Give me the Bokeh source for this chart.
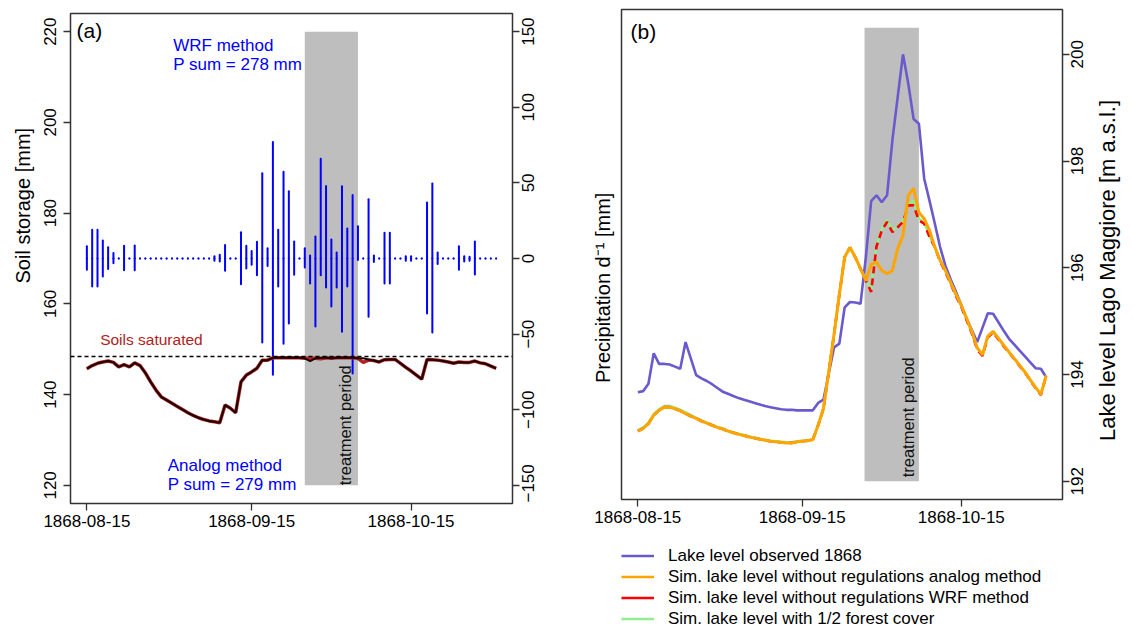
from math import pi
import numpy as np
import pandas as pd
from bokeh.plotting import figure
from bokeh.layouts import row, column
from bokeh.models import (Range1d, LinearAxis, FixedTicker, Span, Label,
                          Legend, LegendItem)
from bokeh.embed import file_html
from bokeh.resources import INLINE

FONT = "Liberation Sans"

# ---------------- data ----------------
start_date = "1868-08-15"
n_days = 78
tick_dates = ["1868-08-15", "1868-09-15", "1868-10-15"]
soil_ticks = [120, 140, 160, 180, 200, 220]
precip_ticks = [-150, -100, -50, 0, 50, 100, 150]
lake_ticks = [192, 194, 196, 198, 200]
soil_limits = [120, 220]
precip_limits = [-150, 150]
lake_limits = [192, 200.5]
soil_saturated = 148.4
treat_a = ["1868-09-25", "1868-10-05"]
treat_b = ["1868-09-26 18:00", "1868-10-07 00:00"]

# daily precipitation (upward: WRF method, downward: analog method)
precip_wrf = [8.1, 19, 19, 11.9, 7.5, 3.7, 0, 8.4, 0, 8.6,
              0, 0, 0, 0, 0, 0, 0, 0, 0, 0,
              0, 0, 0, 0, 1.5, 2.5, 9, 0, 0, 17.4,
              8.4, 5, 11, 56.4, 6.8, 77, 19, 57.3, 44.5, 11.2,
              0, 6.8, 2, 14.5, 65.9, 48, 12.6, 4, 47.8, 19.8,
              42, 21.4, 0, 39.2, 2, 0, 17, 17, 0, 0,
              1.5, 1.5, 0, 0, 37, 49.6, 4, 0, 0, 0,
              8.1, 1.5, 1.2, 11.2, 0, 0, 0, 0]
precip_analog = [7.5, 18.5, 18.5, 11.9, 7, 3.1, 0, 7.7, 0, 7.7,
                 0, 0, 0, 0, 0, 0, 0, 0, 0, 0,
                 0, 0, 0, 0, 1.5, 2, 8.1, 0, 0, 17,
                 6.6, 4.2, 11, 55.5, 5, 76.9, 18.5, 56.4, 43, 10.8,
                 0, 5.9, 16.5, 45, 11, 19.2, 31.7, 19.2, 48.5, 18.5,
                 76, 1, 0, 38.5, 2.3, 0, 16.5, 16.5, 0, 0,
                 1.5, 1.5, 0, 0, 36.4, 49, 3.7, 0, 0, 0,
                 7.5, 2, 1.5, 10.6, 0, 0, 0, 0]

# soil storage [mm]
soil_analog = [145.7, 146.4, 146.9, 147.2, 147.4, 147.1, 146.1, 146.6, 146.1, 147.0,
               146.4, 144.8, 142.8, 141.0, 139.5, 138.8, 138.1, 137.4, 136.7, 136.0,
               135.4, 134.9, 134.5, 134.2, 134.0, 133.8, 137.7, 137.0, 136.0, 142.8,
               144.3, 145.0, 145.8, 147.6, 147.6, 148.1, 148.1, 148.1, 148.1, 148.1,
               148.1, 148.0, 147.4, 148.0, 148.1, 148.1, 148.0, 148.1, 148.1, 148.1,
               148.1, 148.0, 148.0, 147.75, 147.5, 147.2, 147.7, 147.75, 147.75, 146.9,
               146.0, 145.2, 144.3, 143.4, 147.75, 147.7, 147.6, 147.4, 147.2, 146.9,
               147.2, 147.1, 147.1, 147.4, 147.0, 146.8, 146.3, 145.8]
soil_wrf = [145.7, 146.4, 146.9, 147.2, 147.4, 147.1, 146.1, 146.6, 146.1, 147.0,
            146.4, 144.8, 142.8, 141.0, 139.5, 138.8, 138.1, 137.4, 136.7, 136.0,
            135.4, 134.9, 134.5, 134.2, 134.0, 133.8, 137.7, 137.0, 136.0, 142.8,
            144.3, 145.0, 145.8, 147.6, 147.6, 148.1, 148.1, 148.1, 148.1, 148.1,
            148.1, 148.0, 148.0, 148.0, 147.9, 148.1, 148.0, 148.1, 148.1, 148.1,
            148.1, 148.0, 147.1, 147.6, 147.5, 147.2, 147.7, 147.75, 147.75, 146.9,
            146.0, 145.2, 144.3, 143.4, 147.75, 147.7, 147.6, 147.4, 147.2, 146.9,
            147.2, 147.1, 147.1, 147.4, 147.0, 146.8, 146.3, 145.8]

# lake level [m a.s.l.]
lake_obs = [193.67, 193.69, 193.83, 194.40, 194.20, 194.20, 194.19, 194.15, 194.11, 194.61,
            194.30, 193.99, 193.93, 193.88, 193.82, 193.75, 193.68, 193.64, 193.60, 193.56,
            193.53, 193.50, 193.47, 193.44, 193.41, 193.39, 193.37, 193.35, 193.34, 193.34,
            193.33, 193.33, 193.33, 193.33, 193.47, 193.53, 194.02, 194.51, 194.58, 195.26,
            195.36, 195.35, 195.33, 196.20, 197.25, 197.36, 197.23, 197.36, 198.39, 199.20,
            200.00, 199.45, 198.79, 198.70, 197.67, 197.26, 196.83, 196.39, 196.04, 195.78,
            195.55, 195.30, 195.05, 194.83, 194.61, 194.88, 195.15, 195.14, 194.98, 194.82,
            194.67, 194.56, 194.45, 194.34, 194.23, 194.12, 194.11, 193.95]
lake_analog = [192.94, 192.99, 193.08, 193.24, 193.33, 193.39, 193.39, 193.36, 193.32, 193.27,
               193.22, 193.18, 193.13, 193.09, 193.05, 193.01, 192.98, 192.94, 192.91, 192.88,
               192.86, 192.83, 192.81, 192.79, 192.77, 192.75, 192.74, 192.73, 192.72, 192.72,
               192.74, 192.75, 192.76, 192.78, 193.05, 193.36, 194.05, 194.75, 195.50, 196.20,
               196.38, 196.20, 195.98, 195.76, 196.06, 196.11, 195.95, 195.89, 195.95, 196.36,
               196.61, 197.36, 197.49, 197.04, 196.92, 196.70, 196.39, 196.14, 195.95, 195.72,
               195.50, 195.30, 195.05, 194.80, 194.50, 194.37, 194.72, 194.81, 194.68, 194.55,
               194.42, 194.30, 194.17, 194.05, 193.90, 193.76, 193.63, 193.98]
lake_wrf = [192.94, 192.99, 193.08, 193.24, 193.33, 193.39, 193.39, 193.36, 193.32, 193.27,
            193.22, 193.18, 193.13, 193.09, 193.05, 193.01, 192.98, 192.94, 192.91, 192.88,
            192.86, 192.83, 192.81, 192.79, 192.77, 192.75, 192.74, 192.73, 192.72, 192.72,
            192.74, 192.75, 192.76, 192.78, 193.05, 193.36, 194.05, 194.75, 195.50, 196.20,
            196.38, 196.20, 195.98, 195.76, 195.55, 196.40, 196.70, 196.86, 196.67, 196.76,
            196.86, 197.17, 197.17, 196.89, 196.83, 196.58, 196.39, 196.12, 195.92, 195.70,
            195.47, 195.27, 195.02, 194.77, 194.47, 194.35, 194.70, 194.79, 194.66, 194.53,
            194.41, 194.29, 194.16, 194.04, 193.89, 193.75, 193.62, 193.97]
lake_forest = [192.96, 193.01, 193.10, 193.26, 193.35, 193.41, 193.41, 193.38, 193.34, 193.29,
               193.24, 193.19, 193.14, 193.10, 193.06, 193.02, 192.99, 192.95, 192.92, 192.89,
               192.87, 192.84, 192.82, 192.80, 192.78, 192.76, 192.75, 192.74, 192.73, 192.73,
               192.75, 192.76, 192.77, 192.79, 193.06, 193.37, 194.06, 194.76, 195.51, 196.21,
               196.39, 196.21, 195.99, 195.77, 195.60, 196.42, 196.72, 196.90, 196.70, 196.78,
               196.88, 197.20, 197.25, 196.92, 196.85, 196.60, 196.40, 196.14, 195.95, 195.72,
               195.50, 195.30, 195.05, 194.80, 194.50, 194.37, 194.72, 194.81, 194.68, 194.55,
               194.42, 194.30, 194.17, 194.05, 193.90, 193.76, 193.63, 193.98]

for arr in (precip_wrf, precip_analog, soil_analog, soil_wrf,
            lake_obs, lake_analog, lake_wrf, lake_forest):
    assert len(arr) == n_days, len(arr)

# ---------------- helpers ----------------
FRAME_H = 490
NBSP = "\u00a0"
t0 = pd.Timestamp(start_date)


def day_of(s):
    return (pd.Timestamp(s) - t0) / pd.Timedelta(days=1)


def r_range(lo, hi):
    pad = 0.04 * (hi - lo)
    return lo - pad, hi + pad


days = np.arange(n_days)
x_lo, x_hi = r_range(0, n_days - 1)
tick_pos = [int(day_of(d)) for d in tick_dates]
x_overrides = {p: d for p, d in zip(tick_pos, tick_dates)}


def minus(v):
    return str(v).replace("-", "\u2212")


# Liberation Sans / Arial advance widths (em)
EM = {"\u2212": 0.584, ".": 0.278, " ": 0.278, NBSP: 0.278, "L": 0.556, "a": 0.556,
      "k": 0.5, "e": 0.556, "v": 0.5, "l": 0.222, "g": 0.556, "o": 0.556,
      "M": 0.833, "i": 0.222, "r": 0.333, "[": 0.278, "]": 0.278, "m": 0.833,
      "s": 0.5}


def text_len(s, px):
    return sum(EM.get(c, 0.556) for c in s) * px


def style_axis(ax, size="17px"):
    ax.axis_line_color = None
    ax.major_tick_line_color = "#333333"
    ax.major_tick_line_width = 1.3
    ax.major_tick_out = 7
    ax.major_tick_in = 0
    ax.minor_tick_line_color = None
    ax.major_label_text_font = FONT
    ax.major_label_text_font_size = size
    ax.major_label_text_color = "black"
    ax.axis_label_text_font = FONT
    ax.axis_label_text_font_style = "normal"
    ax.axis_label_text_font_size = "20px"
    ax.axis_label_text_color = "black"


def upright_label_axis(p, values, texts, rng, range_name, standoff, px):
    """Right-side labels reading bottom-to-top, each centred on its value."""
    ppu = FRAME_H / (rng[1] - rng[0])
    lo_ok = rng[0] + 0.002 * (rng[1] - rng[0])
    pos = [max(v - text_len(t, px) / 2 / ppu, lo_ok) for v, t in zip(values, texts)]
    ax = LinearAxis(ticker=FixedTicker(ticks=pos),
                    major_label_overrides={q: t for q, t in zip(pos, texts)})
    if range_name:
        ax.y_range_name = range_name
    style_axis(ax, size=f"{px}px")
    ax.major_tick_out = 0
    ax.major_tick_line_color = None
    ax.major_label_orientation = pi / 2
    ax.major_label_standoff = standoff
    p.add_layout(ax, "right")
    return ax


def add_right_axis(p, ticks, rng, range_name, standoff):
    tick_ax = LinearAxis(ticker=FixedTicker(ticks=ticks),
                         major_label_overrides={v: "" for v in ticks})
    if range_name:
        tick_ax.y_range_name = range_name
    style_axis(tick_ax)
    tick_ax.major_label_text_font_size = "0px"
    tick_ax.major_label_standoff = 0
    p.add_layout(tick_ax, "right")
    upright_label_axis(p, ticks, [minus(v) for v in ticks], rng, range_name, standoff, 17)


def base_fig(lb, rb, tb, bb, fw, yr):
    p = figure(frame_width=fw, frame_height=FRAME_H,
               min_border_left=lb, min_border_right=rb,
               min_border_top=tb, min_border_bottom=bb,
               x_range=Range1d(x_lo, x_hi), y_range=Range1d(*yr),
               x_axis_location=None, y_axis_location=None,
               output_backend="svg", toolbar_location=None)
    p.grid.grid_line_color = None
    p.outline_line_color = "#333333"
    p.outline_line_width = 1.5
    p.background_fill_color = "white"
    p.border_fill_color = "white"
    xa = LinearAxis(ticker=FixedTicker(ticks=tick_pos),
                    major_label_overrides=x_overrides)
    style_axis(xa)
    xa.major_label_standoff = 4
    p.add_layout(xa, "below")
    return p


lab_kw = dict(text_font=FONT)

# ---------------- panel (a) ----------------
soil_range = r_range(*soil_limits)
precip_range = r_range(*precip_limits)
pa = base_fig(70, 73, 13, 126, 442, soil_range)
pa.extra_y_ranges = {"precip": Range1d(*precip_range)}

ya = LinearAxis(ticker=FixedTicker(ticks=soil_ticks),
                axis_label=NBSP * 19 + "Soil storage [mm]")
style_axis(ya)
ya.major_label_orientation = "vertical"
ya.major_label_standoff = 7
ya.axis_label_standoff = 8
pa.add_layout(ya, "left")

add_right_axis(pa, precip_ticks, precip_range, "precip", 9)

ta0, ta1 = day_of(treat_a[0]), day_of(treat_a[1])
pa.quad(left=[ta0], right=[ta1], bottom=[precip_limits[0]], top=[precip_limits[1]],
        y_range_name="precip", fill_color="#BEBEBE", line_color=None)

pa.segment(x0=days, y0=0, x1=days, y1=precip_wrf, y_range_name="precip",
           line_color="#0000FF", line_width=2, line_cap="round")
pa.segment(x0=days, y0=0, x1=days, y1=[-v for v in precip_analog], y_range_name="precip",
           line_color="#0000FF", line_width=2, line_cap="round")

pa.add_layout(Span(location=soil_saturated, dimension="width", line_color="black",
                   line_dash="4 3", line_width=1.3))

pa.line(days, soil_wrf, line_color="#B22222", line_width=3.5)
pa.line(days, soil_analog, line_color="#1a0000", line_width=2)

pa.add_layout(Label(x=x_lo, y=soil_range[1], x_offset=6, y_offset=-5, text_color="black",
                    text="(a)", text_font_size="21px", text_baseline="top", **lab_kw))
pa.add_layout(Label(x=16.25, y=140.8, y_range_name="precip", text="WRF method",
                    text_color="#0000FF", text_font_size="17px", text_baseline="middle", **lab_kw))
pa.add_layout(Label(x=16.25, y=128.2, y_range_name="precip", text="P sum = 278 mm",
                    text_color="#0000FF", text_font_size="17px", text_baseline="middle", **lab_kw))
pa.add_layout(Label(x=15.2, y=-136.8, y_range_name="precip", text="Analog method",
                    text_color="#0000FF", text_font_size="17px", text_baseline="middle", **lab_kw))
pa.add_layout(Label(x=15.2, y=-149.4, y_range_name="precip", text="P sum = 279 mm",
                    text_color="#0000FF", text_font_size="17px", text_baseline="middle", **lab_kw))
pa.add_layout(Label(x=2.5, y=152.2, text="Soils saturated", text_color="#B22222",
                    text_font_size="15.5px", text_baseline="middle", **lab_kw))
pa.add_layout(Label(x=ta1, y=precip_limits[0], y_range_name="precip", x_offset=-4,
                    angle=pi / 2, text="treatment period", text_font_size="16.5px",
                    text_align="left", text_baseline="bottom", text_color="#111111", **lab_kw))

# ---------------- panel (b) ----------------
lake_range = r_range(*lake_limits)
pb = base_fig(36, 72, 9, 42, 441, lake_range)

yl = LinearAxis(ticker=FixedTicker(ticks=[]),
                axis_label="Precipitation d\u207b\u00b9 [mm]" + NBSP * 12)
style_axis(yl)
yl.major_tick_out = 0
yl.axis_label_standoff = 8
pb.add_layout(yl, "left")

add_right_axis(pb, lake_ticks, lake_range, None, 8)
lake_title = "Lake level Lago Maggiore [m a.s.l.]"
lake_title_centre = 195.95
upright_label_axis(pb, [lake_title_centre], [lake_title], lake_range, None, 15, 22)

tb0, tb1 = day_of(treat_b[0]), day_of(treat_b[1])
pb.quad(left=[tb0], right=[tb1], bottom=[lake_limits[0]], top=[lake_limits[1]],
        fill_color="#BEBEBE", line_color=None)

line_styles = {
    "obs": dict(line_color="#6A5ACD", line_width=2.6),
    "forest": dict(line_color="#90EE90", line_width=2.6),
    "wrf": dict(line_color="#FF0000", line_width=2.6),
    "analog": dict(line_color="#FFA500", line_width=3),
}
pb.line(days, lake_obs, **line_styles["obs"])
pb.line(days, lake_forest, **line_styles["forest"])
pb.line(days, lake_wrf, line_dash="7 5", **line_styles["wrf"])
pb.line(days, lake_analog, **line_styles["analog"])

pb.add_layout(Label(x=x_lo, y=lake_range[1], x_offset=9, y_offset=-10, text_color="black",
                    text="(b)", text_font_size="21px", text_baseline="top", **lab_kw))
pb.add_layout(Label(x=tb1, y=lake_limits[0], x_offset=-2, y_offset=4,
                    angle=pi / 2, text="treatment period", text_font_size="16.5px",
                    text_align="left", text_baseline="bottom", text_color="#111111", **lab_kw))

# ---------------- legend (own strip below panel b) ----------------
lf = figure(frame_width=441, frame_height=88, min_border_left=36, min_border_right=72,
            min_border_top=0, min_border_bottom=0,
            x_range=Range1d(x_lo, x_hi), y_range=Range1d(0, 1),
            x_axis_location=None, y_axis_location=None,
            output_backend="svg", toolbar_location=None)
lf.grid.grid_line_color = None
lf.outline_line_color = None
# the series themselves (outside this strip's visible range) act as legend keys
k_obs = lf.line(days, lake_obs, **line_styles["obs"])
k_ana = lf.line(days, lake_analog, line_color="#FFA500", line_width=2.6)
k_wrf = lf.line(days, lake_wrf, **line_styles["wrf"])
k_for = lf.line(days, lake_forest, **line_styles["forest"])
legend = Legend(items=[
    LegendItem(label="Lake level observed 1868", renderers=[k_obs]),
    LegendItem(label="Sim. lake level without regulations analog method", renderers=[k_ana]),
    LegendItem(label="Sim. lake level without regulations WRF method", renderers=[k_wrf]),
    LegendItem(label="Sim. lake level with 1/2 forest cover", renderers=[k_for]),
], location=(0, 0), border_line_color=None, background_fill_alpha=0,
    glyph_width=33, glyph_height=21, label_height=21, spacing=0, padding=0, margin=0,
    label_standoff=14, label_text_font=FONT, label_text_font_size="17px",
    label_text_color="black")
lf.add_layout(legend)

layout = row(pa, column(pb, lf))
open("out.html", "w").write(file_html(layout, INLINE))
